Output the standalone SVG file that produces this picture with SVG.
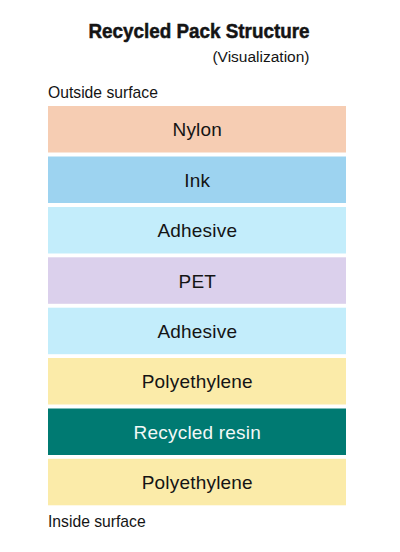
<svg xmlns="http://www.w3.org/2000/svg" width="400" height="552" viewBox="0 0 400 552">
<style>
text{font-family:"Liberation Sans",Arial,sans-serif;fill:#141414}
.title{font-size:20.5px;font-weight:bold;stroke:#141414;stroke-width:0.5px}
.sub{font-size:15.5px}
.lbl{font-size:19px;text-anchor:middle;letter-spacing:0.2px}
.side{font-size:15.7px}
</style>
<rect width="400" height="552" fill="#ffffff"/>
<g id="title">
<text class="title" x="88.5" y="38" textLength="221" lengthAdjust="spacingAndGlyphs">Recycled Pack Structure</text>
<text class="sub" x="309.5" y="61.7" text-anchor="end">(Visualization)</text>
</g>
<text class="side" x="48" y="97.5">Outside surface</text>
<g id="nylon"><rect x="48" y="106" width="298" height="46.5" fill="#F6CDB3"/><text class="lbl" x="197.3" y="136">Nylon</text></g>
<g id="ink"><rect x="48" y="156.5" width="298" height="46.5" fill="#9DD3F0"/><text class="lbl" x="197.3" y="186.5">Ink</text></g>
<g id="adhesive1"><rect x="48" y="207" width="298" height="46.5" fill="#C3EDFB"/><text class="lbl" x="197.3" y="237.3">Adhesive</text></g>
<g id="pet"><rect x="48" y="257.3" width="298" height="46.5" fill="#DBD0EC"/><text class="lbl" x="197.3" y="287.5">PET</text></g>
<g id="adhesive2"><rect x="48" y="307.7" width="298" height="46.5" fill="#C3EDFB"/><text class="lbl" x="197.3" y="337.9">Adhesive</text></g>
<g id="polyethylene1"><rect x="48" y="358" width="298" height="46.5" fill="#FBEBA9"/><text class="lbl" x="197.3" y="388.2">Polyethylene</text></g>
<g id="recycled"><rect x="48" y="408.5" width="298" height="46.5" fill="#007A72"/><text class="lbl" x="197.3" y="438.7" style="fill:#F2F8F7">Recycled resin</text></g>
<g id="polyethylene2"><rect x="48" y="458.8" width="298" height="46.5" fill="#FBEBA9"/><text class="lbl" x="197.3" y="489">Polyethylene</text></g>
<text class="side" x="48" y="527">Inside surface</text>
<g id="connectors"/>
</svg>
